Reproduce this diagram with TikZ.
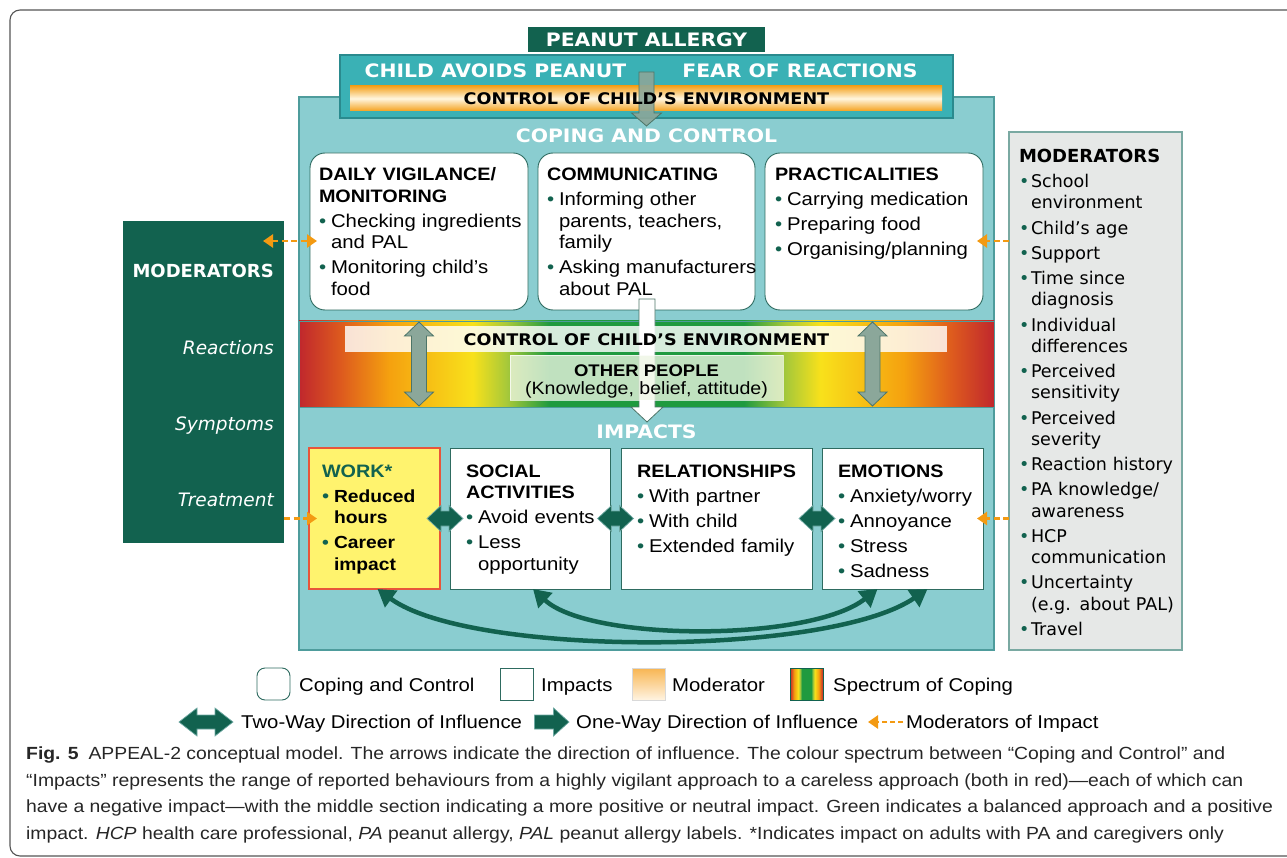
\documentclass[tikz,border=0pt]{standalone}
\usepackage{fontspec}
\setmainfont{Liberation Sans}
\newfontfamily\bodyf{Liberation Sans}[FakeStretch=1.1]
\newfontfamily\geo{DejaVu Sans}
\newfontfamily\geow{DejaVu Sans}[FakeStretch=1.1]
\usetikzlibrary{arrows.meta,calc}
\definecolor{dkg}{HTML}{12624F}
\definecolor{tealtop}{HTML}{3AB1B5}
\definecolor{tealtopb}{HTML}{2A8A8E}
\definecolor{panel}{HTML}{8ACDD0}
\definecolor{panelb}{HTML}{4E9C9C}
\definecolor{boxb}{HTML}{2E6B60}
\definecolor{grayar}{HTML}{8BA79A}
\definecolor{grayarb}{HTML}{4D7568}
\definecolor{orng}{HTML}{F39A12}
\definecolor{barOr}{HTML}{F4A21F}
\definecolor{barLt}{HTML}{FFF6DF}
\definecolor{wrk}{HTML}{FFF36E}
\definecolor{wrkb}{HTML}{E8553A}
\definecolor{modg}{HTML}{E6E8E7}
\definecolor{modb}{HTML}{7AA9A2}
\definecolor{capc}{HTML}{262626}
\definecolor{dkarrb}{HTML}{6FA9A3}
\definecolor{spR}{HTML}{C0272D}
\definecolor{spRO}{HTML}{DD5A1E}
\definecolor{spO}{HTML}{F5A10F}
\definecolor{spY}{HTML}{F8E11B}
\definecolor{spYG}{HTML}{A5C83A}
\definecolor{spG}{HTML}{1F9A3F}
\definecolor{opl}{HTML}{EEF6E4}
\definecolor{lgmodt}{HTML}{F8B552}
\definecolor{lgmodb}{HTML}{FFF4E2}
\definecolor{framec}{HTML}{555555}
\pgfdeclarehorizontalshading{spectrumshade}{100bp}{color(0bp)=(spR); color(25bp)=(spR); color(28bp)=(spRO); color(31.5bp)=(spO); color(37.5bp)=(spY); color(40bp)=(spYG); color(43bp)=(spG); color(57bp)=(spG); color(60bp)=(spYG); color(62.5bp)=(spY); color(68.5bp)=(spO); color(72bp)=(spRO); color(75bp)=(spR); color(100bp)=(spR)}
\newcommand{\bul}[1]{\par\hangindent=12pt\hangafter=1\noindent\hbox to 12pt{\textcolor{dkg}{\textbullet}\hss}#1}
\newcommand{\hd}[1]{{\fontsize{18}{21.5}\selectfont\bfseries #1}}
\begin{document}
\begin{tikzpicture}[x=1pt,y=-1pt,
  wh/.style 2 args={minimum width=#1pt,minimum height=#2pt},
  blk/.style={anchor=north west,inner sep=0pt,outer sep=0pt},
  cbox/.style={blk,draw=boxb,line width=0.9pt,fill=white,rounded corners=15pt},
  ibox/.style={blk,draw=boxb,line width=0.9pt,fill=white},
  txt/.style={anchor=base west,inner sep=0pt,outer sep=0pt,align=left,text width=#1,font=\bodyf\fontsize{18.5}{21.5}\selectfont},
  ttl/.style={inner sep=0pt,font=\geow\bfseries\fontsize{18.5}{20}\selectfont},
  ctl/.style={inner sep=0pt,font=\geow\bfseries\fontsize{16}{18}\selectfont},
  lg/.style={anchor=base west,inner sep=0pt,font=\bodyf\fontsize{18.5}{21}\selectfont},
  captxt/.style={anchor=base west,inner sep=0pt,text=capc,font=\bodyf\fontsize{17.6}{20}\selectfont},
  garr/.style={fill=grayar,draw=grayarb,line width=0.8pt},
  dkarr/.style={fill=dkg,draw=dkarrb,line width=0.7pt},
  curarr/.style={draw=dkg,line width=4.5pt,arrows={Triangle[width=20pt,length=17pt]-Triangle[width=20pt,length=17pt]}},
  oarr/.style={draw=orng,line width=2.6pt,dash pattern=on 6pt off 3.5pt},
  otip/.style={arrows={-Triangle[width=13pt,length=10pt]}},
  otips/.style={arrows={Triangle[width=13pt,length=10pt]-Triangle[width=13pt,length=10pt]}},
  dbl/.pic={\filldraw[dkarr] (-18,0) -- (-4,-13) -- (-4,-7.5) -- (4,-7.5) -- (4,-13) -- (18,0) -- (4,13) -- (4,7.5) -- (-4,7.5) -- (-4,13) -- cycle;},
  vdbl/.pic={\filldraw[garr] (0,-42) -- (14.5,-28) -- (7.5,-28) -- (7.5,28) -- (14.5,28) -- (0,42) -- (-14.5,28) -- (-7.5,28) -- (-7.5,-28) -- (-14.5,-28) -- cycle;},
  lgdbl/.pic={\filldraw[dkarr] (-27,0) -- (-9,-14) -- (-9,-7) -- (9,-7) -- (9,-14) -- (27,0) -- (9,14) -- (9,7) -- (-9,7) -- (-9,14) -- cycle;},
  lgone/.pic={\filldraw[dkarr] (0,-7) -- (19,-7) -- (19,-14) -- (34.5,0) -- (19,14) -- (19,7) -- (0,7) -- cycle;},
]
\useasboundingbox (0,0) rectangle (1287,858);
\draw[framec,line width=1.1pt,rounded corners=10pt] (10,10) rectangle (1320,856);
% main panel
\node[blk,wh={695}{553},fill=panel,draw=panelb,line width=1.2pt] (panel) at (299,97) {};
\node[cbox,wh={218}{157}] (daily) at (310,153) {};
\node[cbox,wh={217}{157}] (comm) at (538,153) {};
\node[cbox,wh={218}{157}] (pract) at (765,153) {};
% spectrum band
\node[blk,wh={695}{86},shade,shading=spectrumshade,draw=panelb,line width=0.6pt] (band) at (299,321) {};
\filldraw[fill=white,draw=grayarb,line width=0.8pt] (639,299) -- (655,299) -- (655,407) -- (663,407) -- (647,422) -- (631,407) -- (639,407) -- cycle;
\node[blk,wh={602}{26},fill=white,fill opacity=0.82] (cbar) at (345,326) {};
\node[blk,wh={273}{45},fill=opl,fill opacity=0.78,draw=white,draw opacity=0.7,line width=0.8pt] (opbox) at (510,355) {};
\node[ctl] (cbart) at (646.5,339.5) {CONTROL OF CHILD’S ENVIRONMENT};
\node[anchor=base,inner sep=0pt,font=\bodyf\bfseries\fontsize{16.8}{18}\selectfont] (opt) at (646.5,376.7) {OTHER PEOPLE};
\node[anchor=base,inner sep=0pt,font=\bodyf\fontsize{17.8}{20}\selectfont] (opt2) at (646.5,394.3) {(Knowledge, belief, attitude)};
\pic at (419,364) {vdbl};
\pic at (872.5,364) {vdbl};
\node[ttl,text=white] (cct) at (646.5,136) {COPING AND CONTROL};
\node[ttl,text=white] (impt) at (646.5,432) {IMPACTS};
% top
\node[blk,wh={237}{25},fill=dkg,ttl,text=white] (pa) at (528,27) {PEANUT ALLERGY};
\node[blk,wh={613}{63},fill=tealtop,draw=tealtopb,line width=1.2pt] (ctop) at (340,55) {};
\node[ttl,text=white] (avoid) at (495.5,71) {CHILD AVOIDS PEANUT};
\node[ttl,text=white] (fear) at (800,71) {FEAR OF REACTIONS};
\node[blk,wh={592}{25},top color=barOr,bottom color=barOr,middle color=barLt] (obar) at (350,86) {};
\filldraw[garr,fill opacity=0.9] (639,72) -- (654,72) -- (654,113) -- (661.5,113) -- (646.5,126) -- (631.5,113) -- (639,113) -- cycle;
\node[ctl] (obart) at (646.5,98.5) {CONTROL OF CHILD’S ENVIRONMENT};
% coping texts
\node[txt=260pt] (dailyt) at (319,181) {\setlength{\parskip}{3.5pt}\hd{DAILY VIGILANCE/\newline MONITORING}\bul{Checking ingredients\newline and PAL}\bul{Monitoring child’s\newline food}\par};
\node[txt=260pt] (commt) at (547,181) {\setlength{\parskip}{3.5pt}\hd{COMMUNICATING}\bul{Informing other\newline parents, teachers,\newline family}\bul{Asking manufacturers\newline about PAL}\par};
\node[txt=260pt] (practt) at (775,181) {\setlength{\parskip}{3.5pt}\hd{PRACTICALITIES}\bul{Carrying medication}\bul{Preparing food}\bul{Organising/planning}\par};
% impacts
\node[blk,wh={131}{141},fill=wrk,draw=wrkb,line width=1.8pt] (work) at (309,448) {};
\node[ibox,wh={160}{141}] (social) at (450,448) {};
\node[ibox,wh={191}{141}] (rel) at (621,448) {};
\node[ibox,wh={161}{141}] (emo) at (822,448) {};
\node[txt=200pt] (workt) at (322,477) {\setlength{\parskip}{3.5pt}\textcolor{dkg}{\hd{WORK*}}\bul{\fontsize{17.5}{21.5}\selectfont\bfseries Reduced\newline hours}\bul{\fontsize{17.5}{21.5}\selectfont\bfseries Career\newline impact}\par};
\node[txt=200pt] (socialt) at (466,477) {\setlength{\parskip}{3.5pt}\hd{SOCIAL\newline ACTIVITIES}\bul{Avoid events}\bul{Less\newline opportunity}\par};
\node[txt=200pt] (relt) at (637,477) {\setlength{\parskip}{3.5pt}\hd{RELATIONSHIPS}\bul{With partner}\bul{With child}\bul{Extended family}\par};
\node[txt=200pt] (emot) at (838,477) {\setlength{\parskip}{3.5pt}\hd{EMOTIONS}\bul{Anxiety/worry}\bul{Annoyance}\bul{Stress}\bul{Sadness}\par};
\coordinate (d1) at ($(work.east)!0.5!(social.west)$);
\coordinate (d2) at ($(social.east)!0.5!(rel.west)$);
\coordinate (d3) at ($(rel.east)!0.5!(emo.west)$);
\pic at (d1) {dbl};
\pic at (d2) {dbl};
\pic at (d3) {dbl};
\draw[curarr] ([xshift=3pt]social.south) .. controls (590,642) and (810,642) .. ([xshift=-25pt]emo.south);
\draw[curarr] ([xshift=3pt]work.south) .. controls (470,657) and (828,657) .. ([xshift=25pt]emo.south);
% left moderators
\node[blk,wh={161}{322},fill=dkg] (lmod) at (123,221) {};
\node[anchor=base east,inner sep=0pt,text=white,font=\geo\bfseries\fontsize{18}{20}\selectfont] (lmodt) at (274,277.5) {MODERATORS};
\node[anchor=base east,inner sep=0pt,text=white,font=\geo\itshape\fontsize{18.5}{20}\selectfont] (react) at (274,354.5) {Reactions};
\node[anchor=base east,inner sep=0pt,text=white,font=\geo\itshape\fontsize{18.5}{20}\selectfont] (sympt) at (274,430.5) {Symptoms};
\node[anchor=base east,inner sep=0pt,text=white,font=\geo\itshape\fontsize{18.5}{20}\selectfont] (treat) at (274,506.5) {Treatment};
% right moderators
\node[blk,wh={173}{518},fill=modg,draw=modb,line width=1.2pt] (rmod) at (1009,132) {};
\node[anchor=base west,inner sep=0pt,outer sep=0pt,align=left,text width=200pt,font=\geo\fontsize{17.5}{21.3}\selectfont] (rmodt) at (1019,162.5) {\setlength{\parskip}{3.9pt}{\bfseries\fontsize{18}{21.3}\selectfont MODERATORS}\bul{School\newline environment}\bul{Child’s age}\bul{Support}\bul{Time since\newline diagnosis}\bul{Individual\newline differences}\bul{Perceived\newline sensitivity}\bul{Perceived\newline severity}\bul{Reaction history}\bul{PA knowledge/\newline awareness}\bul{HCP\newline communication}\bul{Uncertainty\newline (e.g. about PAL)}\bul{Travel}\par};
% moderator arrows
\coordinate (o1) at (263,241);
\draw[oarr,otips] (o1) -- ($(daily.west)+(7,9.5)$);
\coordinate (o2) at ($(work.west)+(8,0)$);
\draw[oarr,otip] (lmod.east |- o2) -- (o2);
\coordinate (o3) at ($(pract.east)+(-6,9.5)$);
\draw[oarr,otip] (rmod.west |- o3) -- (o3);
\coordinate (o4) at ($(emo.east)+(-6,0)$);
\draw[oarr,otip] (rmod.west |- o4) -- (o4);
% legend
\node[blk,wh={33}{32},draw=boxb,line width=0.9pt,fill=white,rounded corners=8pt] (lg1) at (257,668) {};
\node[lg] (lg1t) at (299,691.6) {Coping and Control};
\node[blk,wh={33}{32},draw=boxb,line width=0.9pt,fill=white] (lg2) at (500,668) {};
\node[lg] (lg2t) at (541,691.6) {Impacts};
\node[blk,wh={33}{32},top color=lgmodt,bottom color=lgmodb,draw=black!15] (lg3) at (632,668) {};
\node[lg] (lg3t) at (672,691.6) {Moderator};
\node[blk,wh={33}{32},shade,shading=spectrumshade,draw=dkg,line width=0.6pt] (lg4) at (790,668) {};
\node[lg] (lg4t) at (833,691.6) {Spectrum of Coping};
\pic at (206,722) {lgdbl};
\node[lg] (lg5t) at (241,728.6) {Two-Way Direction of Influence};
\pic at (534.5,722) {lgone};
\node[lg] (lg6t) at (576,728.6) {One-Way Direction of Influence};
\coordinate (lgo1) at (903,722);
\coordinate (lgo2) at (868,722);
\draw[oarr,otip,dash pattern=on 5pt off 3pt] (lgo1) -- (lgo2);
\node[lg] (lg7t) at (906,728.6) {Moderators of Impact};
% caption
\node[captxt] (c1) at (26,759.5) {\textbf{Fig. 5}\hspace{10pt}APPEAL-2 conceptual model. The arrows indicate the direction of influence. The colour spectrum between “Coping and Control” and};
\node[captxt] (c2) at (26,786) {“Impacts” represents the range of reported behaviours from a highly vigilant approach to a careless approach (both in red)—each of which can};
\node[captxt] (c3) at (26,812.7) {have a negative impact—with the middle section indicating a more positive or neutral impact. Green indicates a balanced approach and a positive};
\node[captxt] (c4) at (26,839.3) {impact. \textit{HCP} health care professional, \textit{PA} peanut allergy, \textit{PAL} peanut allergy labels. *Indicates impact on adults with PA and caregivers only};
\end{tikzpicture}
\end{document}
